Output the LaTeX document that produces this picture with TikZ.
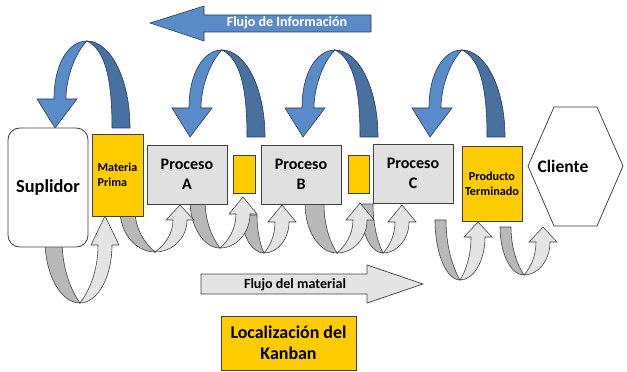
\documentclass[tikz,border=0pt]{standalone}
\usepackage{fontspec}
\setmainfont{Carlito}
\usepackage{tikz}
\definecolor{infolight}{RGB}{88,139,199}
\definecolor{infodark}{RGB}{72,112,160}
\definecolor{infoline}{RGB}{40,58,85}
\definecolor{matlight}{RGB}{228,228,228}
\definecolor{matdark}{RGB}{184,184,184}
\definecolor{kanban}{RGB}{255,204,0}
\definecolor{procfill}{RGB}{224,224,224}

% blue kanban loop, tip of the head at (#1,#2)
\newcommand{\infoloop}[2]{%
  \begin{scope}[shift={(#1,#2)}]
    \path[infoback] (32,-87) .. controls (55,-87) and (75,-50) .. (75,0) -- (57,0)
      .. controls (57,-50) and (50,-78) .. (32,-87) -- cycle;
    \path[infoface] (0,0) -- (22,-29) -- (11,-29) .. controls (11,-50) and (20,-75) .. (32,-87)
      .. controls (14,-87) and (-1,-65) .. (-1,-29) -- (-18,-29) -- cycle;
  \end{scope}}

% gray material loop: leg left, leg width, leg top, bottom x, bottom y, tip x, tip y, head height
\newcommand{\matloop}[8]{%
  \path[matback] (#1,#3) .. controls (#1,{#5-0.45*(#5-#3)}) and ({#4-0.55*(#4-#1)},#5) .. (#4,#5)
    .. controls ({#4-0.5*(#4-#1-#2)},{#5-0.2*(#5-#3)}) and ({#1+#2},{#3+0.45*(#5-#3)}) .. ({#1+#2},#3) -- cycle;
  \path[matface] (#6,#7) -- ({#6+14},{#7+#8}) -- ({#6+7},{#7+#8})
    .. controls ({#6+7},{#5-0.45*(#5-#7-#8)}) and ({#4+0.55*(#6+7-#4)},#5) .. (#4,#5)
    .. controls ({#4+0.5*(#6-7-#4)},{#5-0.2*(#5-#7-#8)}) and ({#6-7},{#7+#8+0.45*(#5-#7-#8)}) .. ({#6-7},{#7+#8})
    -- ({#6-14},{#7+#8}) -- cycle;}

\begin{document}
\begin{tikzpicture}[x=0.03cm, y=-0.03cm,
  infoface/.style={fill=infolight, draw=infoline, line width=0.5pt},
  infoback/.style={fill=infodark, draw=infoline, line width=0.5pt},
  matface/.style={fill=matlight, draw=black!75, line width=0.5pt},
  matback/.style={fill=matdark, draw=black!75, line width=0.5pt},
  procbox/.style={draw=black!75, fill=procfill, line width=0.7pt, minimum width=2.4cm, minimum height=1.77cm,
    align=center, inner sep=1pt, font=\bfseries\fontsize{13.7}{17}\selectfont},
  kanbox/.style={draw=black!75, fill=kanban, line width=0.7pt, inner sep=1pt}]
	\useasboundingbox (0,0) rectangle (627,372);

	% flujo de informacion
	\path[infoface] (150,23) -- (204,6) -- (204,15) -- (371,15) -- (371,32) -- (204,32) -- (204,41) -- cycle;
	\node[text=white, font=\bfseries\fontsize{12}{14}\selectfont] (info) at (287,23) {Flujo de Información};

	\infoloop{55}{128}
	\infoloop{190}{137}
	\infoloop{303}{137}
	\infoloop{430}{137}

	% material loops, right to left
	\matloop{500}{11}{227}{524}{275}{543}{227}{15}
	\matloop{435}{11}{220}{460}{280}{478}{222}{15}
	\matloop{360}{13}{204}{383}{253}{402}{205}{17}
	\matloop{305}{19}{204}{337}{253}{360}{203}{17}
	\matloop{242}{15}{215}{264}{253}{282}{205}{17}
	\matloop{190}{15}{200}{220}{248}{243}{197}{17}
	\matloop{120}{15}{210}{155}{252}{180}{205}{15}
	\matloop{45}{17}{240}{80}{303}{105}{216}{29}

	% boxes
	\node[draw=black!75, fill=white, line width=0.7pt, rounded corners=10pt, minimum width=2.4cm, minimum height=3.57cm,
	  font=\bfseries\fontsize{15.7}{18}\selectfont] (sup) at (48,187.5) {Suplidor};
	\node[kanbox, minimum width=1.53cm, minimum height=2.46cm, align=left,
	  font=\bfseries\fontsize{10.3}{12.8}\selectfont] (mp) at (117.5,175) {Materia\\Prima};
	\node[procbox] (pa) at (187,174.5) {Proceso\\A};
	\node[kanbox, minimum width=0.66cm, minimum height=1.14cm] (k1) at (244,174) {};
	\node[procbox] (pb) at (301,174.5) {Proceso\\B};
	\node[kanbox, minimum width=0.63cm, minimum height=1.14cm] (k2) at (358.5,174) {};
	\node[procbox] (pc) at (413,173.5) {Proceso\\C};
	\node[kanbox, minimum width=1.8cm, minimum height=2.25cm, align=center,
	  font=\bfseries\fontsize{10.4}{12.8}\selectfont] (pt) at (492,183.5) {Producto\\Terminado};

	% cliente
	\draw[black!80, line width=0.6pt] (528,166) -- (554,107) -- (597,107) -- (623,166) -- (597,226) -- (554,226) -- cycle;
	\node[font=\bfseries\fontsize{15}{18}\selectfont] (cli) at (563,166) {Cliente};

	% flujo del material
	\path[matface, line width=0.6pt] (201,274) -- (367,274) -- (367,265) -- (423,284) -- (367,303) -- (367,294) -- (201,294) -- cycle;
	\node[font=\bfseries\fontsize{12}{14}\selectfont] (mat) at (295,285) {Flujo del material};

	\node[kanbox, minimum width=4.05cm, minimum height=1.62cm, align=center,
	  font=\bfseries\fontsize{15.3}{18}\selectfont] (kan) at (288.5,343) {Localización del\\Kanban};
\end{tikzpicture}
\end{document}
